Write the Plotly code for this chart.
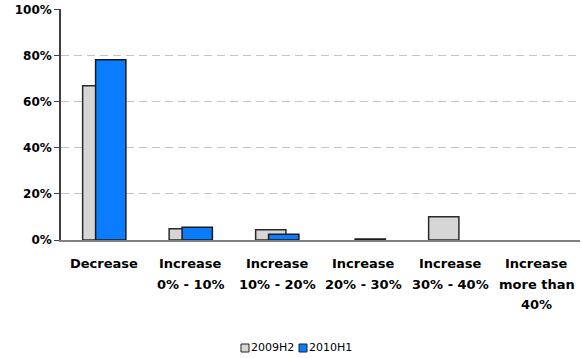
import plotly.graph_objects as go

# Category labels; "\n" marks a line break in the axis label
categories = [
    "Decrease",
    "Increase\n0% - 10%",
    "Increase\n10% - 20%",
    "Increase\n20% - 30%",
    "Increase\n30% - 40%",
    "Increase\nmore than\n40%",
]
series_names = ["2009H2", "2010H1"]
values_2009h2 = [67.0, 4.9, 4.5, 0.0, 10.1, 0.0]
values_2010h1 = [78.3, 5.5, 2.5, 0.4, 0.0, 0.0]
y_ticks = [0, 20, 40, 60, 80, 100]
y_tick_labels = ["0%", "20%", "40%", "60%", "80%", "100%"]

FONT = "DejaVu Sans"
GRAY_FILL = "#d6d6d6"
BLUE_FILL = "#0a7cff"

W, H = 582, 358
M_L, M_R, M_T, M_B = 61, 2, 9, 118
PLOT_W = W - M_L - M_R
PLOT_H = H - M_T - M_B


def px_x(px):
    """Horizontal page pixel -> paper fraction."""
    return (px - M_L) / PLOT_W


def px_y(py):
    """Vertical page pixel (from top) -> paper fraction."""
    return (H - M_B - py) / PLOT_H


def nonzero(vals):
    # empty categories are left without a bar
    return [v if v > 0 else None for v in vals]


fig = go.Figure()
fig.add_trace(go.Bar(
    name=series_names[0], x=categories, y=nonzero(values_2009h2),
    offset=-0.25, width=0.35,
    marker=dict(color=GRAY_FILL, line=dict(color="#2a2a2a", width=1.5)),
))
fig.add_trace(go.Bar(
    name=series_names[1], x=categories, y=nonzero(values_2010h1),
    offset=-0.10, width=0.35,
    marker=dict(color=BLUE_FILL, line=dict(color="#1a1a1a", width=1.5)),
))

annotations = []
# multi-line category labels under the axis
for cat in categories:
    for i, line in enumerate(cat.split("\n")):
        annotations.append(dict(
            x=cat, xref="x", y=0, yref="paper",
            yshift=-(23.5 + 20.5 * i), yanchor="middle", xanchor="center",
            text="<b>%s</b>" % line, showarrow=False,
            font=dict(family=FONT, size=13, color="black"),
        ))

# legend: outlined squares with series names
shapes = []
legend_items = [(series_names[0], GRAY_FILL, 241, 251), (series_names[1], BLUE_FILL, 299, 309)]
for name, fill, sq_x, tx_x in legend_items:
    shapes.append(dict(
        type="rect", xref="paper", yref="paper",
        x0=px_x(sq_x), x1=px_x(sq_x + 8), y0=px_y(352), y1=px_y(344),
        fillcolor=fill, line=dict(color="#222222", width=1),
    ))
    annotations.append(dict(
        x=px_x(tx_x - 2), xref="paper", y=px_y(347.8), yref="paper",
        xanchor="left", yanchor="middle", text=name, showarrow=False,
        font=dict(family=FONT, size=11, color="black"),
    ))

fig.update_layout(
    width=W, height=H,
    margin=dict(l=M_L, r=M_R, t=M_T, b=M_B),
    barmode="overlay",
    plot_bgcolor="white", paper_bgcolor="white",
    font=dict(family=FONT, size=12, color="black"),
    showlegend=False,
    annotations=annotations,
    shapes=shapes,
)
fig.update_xaxes(
    showline=True, linecolor="#808080", linewidth=2,
    ticks="", showgrid=False, showticklabels=False,
    range=[-0.5, 5.5],
)
fig.update_yaxes(
    range=[0, 100.4], tickmode="array", tickvals=y_ticks,
    ticktext=["<b>%s</b>" % t for t in y_tick_labels],
    showline=True, linecolor="#404040", linewidth=1.5,
    ticks="outside", ticklen=5, tickcolor="#404040",
    showgrid=True, gridcolor="#c4c4c4", griddash="8px,5px", gridwidth=1,
    zeroline=False,
    tickfont=dict(family=FONT, size=12, color="black", weight=700),
)

fig.write_html("out.html")
